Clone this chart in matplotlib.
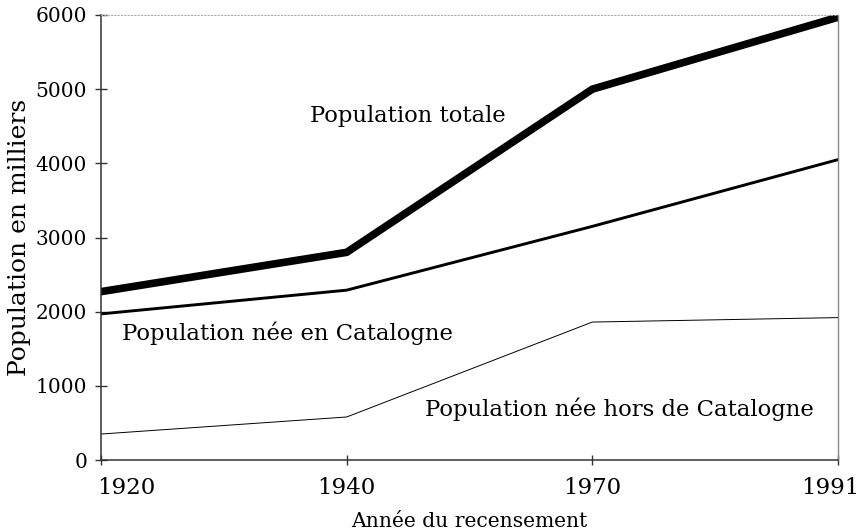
import matplotlib
matplotlib.use("Agg")
import matplotlib.pyplot as plt
import matplotlib.transforms as mtransforms

years = ["1920", "1940", "1970", "1991"]
total = [2270, 2800, 5000, 5970]
nee_catalogne = [1970, 2290, 3150, 4050]
nee_hors = [350, 580, 1860, 1920]
yticks = [0, 1000, 2000, 3000, 4000, 5000, 6000]

plt.rcParams['font.family'] = ['DejaVu Serif']
fig = plt.figure(figsize=(8.6, 5.31), dpi=100)
ax = fig.add_axes([101/860, 71/531, (838-101)/860, (460-15)/531])

x = list(range(len(years)))
ax.plot(x, total, color='black', lw=5.5, solid_joinstyle='miter')
ax.plot(x, nee_catalogne, color='black', lw=2.1)
ax.plot(x, nee_hors, color='black', lw=0.7)

ax.set_xlim(0, 3)
ax.set_ylim(0, 6000)
ax.set_yticks(yticks)
ax.set_xticks(x)
ax.set_xticklabels(years)

for s in ['left', 'bottom']:
    ax.spines[s].set_color('#333333')
    ax.spines[s].set_linewidth(1.1)
ax.spines['right'].set_color('#888888')
ax.spines['right'].set_linewidth(1.0)
ax.spines['top'].set_color('#aaaaaa')
ax.spines['top'].set_linewidth(0.8)
ax.spines['top'].set_linestyle((0, (1, 2)))

ax.tick_params(axis='y', direction='inout', length=8, width=1, color='#333333', labelsize=14.5, pad=6)
ax.tick_params(axis='x', direction='inout', length=7, width=1, color='#333333', labelsize=16.5, pad=9)

labels = ax.get_xticklabels()
offsets = [25, 0, 0, -8]
for lab, off in zip(labels, offsets):
    lab.set_transform(lab.get_transform() + mtransforms.ScaledTranslation(off/100, 0, fig.dpi_scale_trans))

ax.set_ylabel("Population en milliers", fontsize=18, labelpad=3)
ax.set_xlabel("Année du recensement", fontsize=14.6, labelpad=9)

ax.text(0.85, 4640, "Population totale", fontsize=16.3, va='center', ha='left')
ax.text(0.085, 1710, "Population née en Catalogne", fontsize=16.4, va='center', ha='left')
ax.text(1.32, 690, "Population née hors de Catalogne", fontsize=16.4, va='center', ha='left')

fig.savefig("out.png", dpi=100)
